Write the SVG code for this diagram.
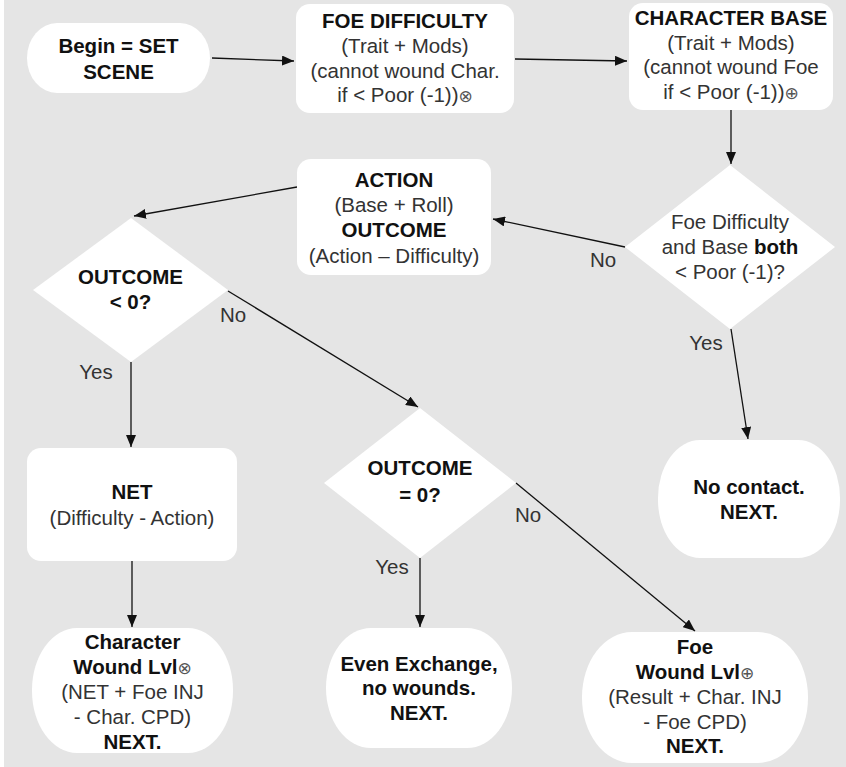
<svg xmlns="http://www.w3.org/2000/svg" width="846" height="767" viewBox="0 0 846 767">
<defs>
<style>
.n{fill:#fff;stroke:none}
text{font-family:"Liberation Sans",Arial,sans-serif;font-size:20.5px;text-anchor:middle;fill:#333}
.b{font-weight:bold;fill:#111}
.sym{font-family:"DejaVu Sans",sans-serif;font-weight:normal;font-size:17px;fill:#555}
.c{stroke:#111;stroke-width:1.3;fill:none;marker-end:url(#ah)}
.lbl{fill:#333}
</style>
<marker id="ah" viewBox="0 0 12 10" refX="12" refY="5" markerWidth="12" markerHeight="10" markerUnits="userSpaceOnUse" orient="auto"><path d="M0,0 L12,5 L0,10 z" fill="#111"/></marker>
</defs>
<rect x="0" y="0" width="846" height="767" fill="#fff"/>
<rect x="4" y="0" width="842" height="767" fill="#e5e5e5"/>

<g id="connectors">
<line class="c" x1="212" y1="58" x2="294" y2="61"/>
<line class="c" x1="515" y1="59" x2="627" y2="61"/>
<line class="c" x1="731" y1="110" x2="731" y2="164"/>
<line class="c" x1="625" y1="247" x2="493" y2="219"/>
<line class="c" x1="297" y1="187" x2="134" y2="216"/>
<line class="c" x1="131" y1="362" x2="131" y2="447"/>
<line class="c" x1="228" y1="291" x2="418" y2="407"/>
<line class="c" x1="132" y1="561" x2="132" y2="627"/>
<line class="c" x1="420" y1="558" x2="420" y2="627"/>
<line class="c" x1="516" y1="483" x2="695" y2="631"/>
<line class="c" x1="731" y1="329" x2="748" y2="439"/>
<text class="lbl" x="603" y="267">No</text>
<text class="lbl" x="706" y="350">Yes</text>
<text class="lbl" x="233" y="322">No</text>
<text class="lbl" x="96" y="379">Yes</text>
<text class="lbl" x="392" y="574">Yes</text>
<text class="lbl" x="528" y="522">No</text>
</g>

<g id="begin">
<rect class="n" x="27" y="23" width="183" height="70" rx="30" ry="35"/>
<text class="b" x="118.5" y="53">Begin = SET</text>
<text class="b" x="118.5" y="78.5">SCENE</text>
</g>

<g id="foe-difficulty">
<rect class="n" x="296" y="4" width="218" height="109" rx="14"/>
<text class="b" x="405" y="28">FOE DIFFICULTY</text>
<text x="405" y="53">(Trait + Mods)</text>
<text x="405" y="77.5">(cannot wound Char.</text>
<text x="405" y="102">if &lt; Poor (-1))<tspan class="sym">⊗</tspan></text>
</g>

<g id="character-base">
<rect class="n" x="629" y="3" width="204" height="107" rx="14"/>
<text class="b" x="731" y="25">CHARACTER BASE</text>
<text x="731" y="49.5">(Trait + Mods)</text>
<text x="731" y="74">(cannot wound Foe</text>
<text x="731" y="98.5">if &lt; Poor (-1))<tspan class="sym">⊕</tspan></text>
</g>

<g id="both-poor">
<polygon class="n" points="730,165 835,247 730,329 625,247"/>
<text x="730" y="229">Foe Difficulty</text>
<text x="730" y="254">and Base <tspan class="b">both</tspan></text>
<text x="730" y="279">&lt; Poor (-1)?</text>
</g>

<g id="action">
<rect class="n" x="297" y="159" width="194" height="116" rx="14"/>
<text class="b" x="394" y="187">ACTION</text>
<text x="394" y="212">(Base + Roll)</text>
<text class="b" x="394" y="237">OUTCOME</text>
<text x="394" y="263">(Action – Difficulty)</text>
</g>

<g id="outcome-lt0">
<polygon class="n" points="131,218 228,290 131,362 33,290"/>
<text class="b" x="130.5" y="284">OUTCOME</text>
<text class="b" x="130.5" y="309">&lt; 0?</text>
</g>

<g id="net">
<rect class="n" x="27" y="448" width="210" height="113" rx="14"/>
<text class="b" x="132" y="499">NET</text>
<text x="132" y="525">(Difficulty - Action)</text>
</g>

<g id="outcome-eq0">
<polygon class="n" points="420,408 516,483 420,558 324,483"/>
<text class="b" x="420" y="475">OUTCOME</text>
<text class="b" x="420" y="502">= 0?</text>
</g>

<g id="no-contact">
<rect class="n" x="658" y="440" width="182" height="118" rx="42" ry="58"/>
<text class="b" x="749" y="494">No contact.</text>
<text class="b" x="749" y="519">NEXT.</text>
</g>

<g id="character-wound">
<rect class="n" x="32" y="628" width="201" height="125" rx="45" ry="62"/>
<text class="b" x="132.5" y="649">Character</text>
<text class="b" x="132.5" y="674">Wound Lvl<tspan class="sym">⊗</tspan></text>
<text x="132.5" y="699">(NET + Foe INJ</text>
<text x="132.5" y="724">- Char. CPD)</text>
<text class="b" x="132.5" y="749">NEXT.</text>
</g>

<g id="even-exchange">
<rect class="n" x="326" y="628" width="186" height="120" rx="45" ry="60"/>
<text class="b" x="419" y="671">Even Exchange,</text>
<text class="b" x="419" y="695">no wounds.</text>
<text class="b" x="419" y="720">NEXT.</text>
</g>

<g id="foe-wound">
<rect class="n" x="582" y="632" width="226" height="131" rx="50" ry="65"/>
<text class="b" x="695" y="654">Foe</text>
<text class="b" x="695" y="679">Wound Lvl<tspan class="sym">⊕</tspan></text>
<text x="695" y="704">(Result + Char. INJ</text>
<text x="695" y="729">- Foe CPD)</text>
<text class="b" x="695" y="753">NEXT.</text>
</g>
</svg>
